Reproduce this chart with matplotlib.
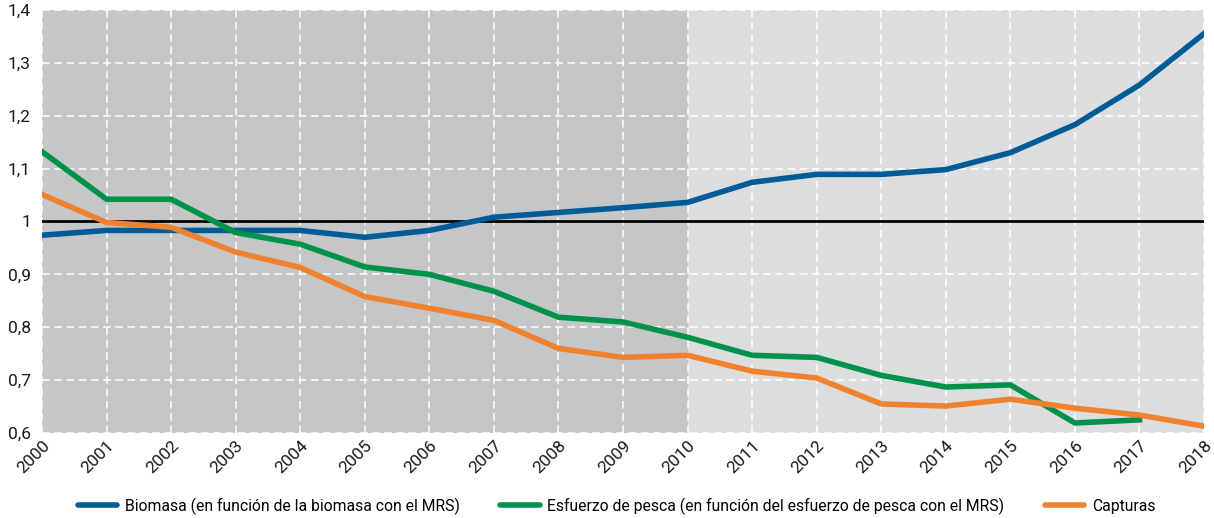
import matplotlib
matplotlib.use("Agg")
import matplotlib.pyplot as plt
from matplotlib.ticker import FixedLocator, FuncFormatter

# datos
years = list(range(2000, 2019))
biomasa = [0.974, 0.983, 0.983, 0.983, 0.983, 0.970, 0.983, 1.008, 1.017, 1.026,
           1.036, 1.074, 1.089, 1.089, 1.098, 1.130, 1.183, 1.258, 1.355]
esfuerzo = [1.132, 1.042, 1.042, 0.979, 0.957, 0.914, 0.900, 0.868, 0.819, 0.810,
            0.781, 0.747, 0.743, 0.709, 0.687, 0.691, 0.619, 0.625]
capturas = [1.051, 0.998, 0.989, 0.942, 0.913, 0.858, 0.836, 0.813, 0.760, 0.743,
            0.747, 0.717, 0.704, 0.655, 0.651, 0.664, 0.647, 0.634, 0.613]
labels = ["Biomasa (en función de la biomasa con el MRS)",
          "Esfuerzo de pesca (en función del esfuerzo de pesca con el MRS)",
          "Capturas"]
y_ticks = [0.6, 0.7, 0.8, 0.9, 1.0, 1.1, 1.2, 1.3, 1.4]

plt.rcParams['font.family'] = ['Roboto', 'DejaVu Sans']

fig = plt.figure(figsize=(12.14, 5.18), dpi=100)
ax = fig.add_axes([0.0346, 0.164, 0.9572, 0.817])

ax.axvspan(2000, 2010, color='#c5c6c8', zorder=0, lw=0)
ax.axvspan(2010, 2018, color='#dcdddf', zorder=0, lw=0)

ax.set_xlim(2000, 2018)
ax.set_ylim(0.6, 1.4)
ax.xaxis.set_major_locator(FixedLocator(years))
ax.yaxis.set_major_locator(FixedLocator(y_ticks))
ax.yaxis.set_major_formatter(FuncFormatter(
    lambda v, p: "1" if abs(v - 1) < 1e-9 else f"{v:.1f}".replace(".", ",")))
ax.grid(True, color='white', ls=(0, (5, 3)), lw=1.1, zorder=1)
ax.axhline(1.0, color='black', lw=2, zorder=2)

ax.plot(years, biomasa, color='#005b97', lw=4, label=labels[0], zorder=3)
ax.plot(years[:len(esfuerzo)], esfuerzo, color='#00914a', lw=4, label=labels[1], zorder=3)
ax.plot(years, capturas, color='#f0822f', lw=4, label=labels[2], zorder=3)

for s in ax.spines.values():
    s.set_visible(False)
ax.tick_params(length=0, labelsize=12.5, labelcolor='#1a1a1a')
ax.tick_params(axis='y', pad=8)
for t in ax.get_xticklabels():
    t.set_rotation(45)
    t.set_ha('right')
    t.set_rotation_mode('anchor')

handles, labs = ax.get_legend_handles_labels()
leg = fig.legend(handles, labs, loc='lower center', bbox_to_anchor=(0.508, -0.012), ncol=3,
                 frameon=False, fontsize=11.3, handlelength=2.5, columnspacing=2.6,
                 handletextpad=0.5, borderaxespad=0.2)
for h in leg.get_lines():
    h.set_solid_capstyle('round')

fig.savefig("out.png", dpi=100)
